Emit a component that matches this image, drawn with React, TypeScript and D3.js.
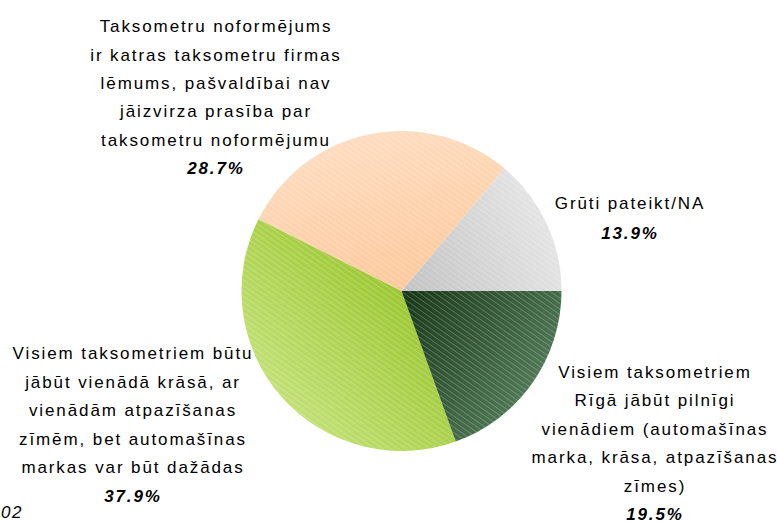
import React from "react";
import * as d3 from "d3";

const categories = [
  "Grūti pateikt/NA",
  "Taksometru noformējums ir katras taksometru firmas lēmums, pašvaldībai nav jāizvirza prasība par taksometru noformējumu",
  "Visiem taksometriem būtu jābūt vienādā krāsā, ar vienādām atpazīšanas zīmēm, bet automašīnas markas var būt dažādas",
  "Visiem taksometriem Rīgā jābūt pilnīgi vienādiem (automašīnas marka, krāsa, atpazīšanas zīmes)",
];
const values = [13.9, 28.7, 37.9, 19.5];
const labelLines = [
  ["Grūti pateikt/NA"],
  ["Taksometru noformējums", "ir katras taksometru firmas", "lēmums, pašvaldībai nav", "jāizvirza prasība par", "taksometru noformējumu"],
  ["Visiem taksometriem būtu", "jābūt vienādā krāsā, ar", "vienādām atpazīšanas", "zīmēm, bet automašīnas", "markas var būt dažādas"],
  ["Visiem taksometriem", "Rīgā jābūt pilnīgi", "vienādiem (automašīnas", "marka, krāsa, atpazīšanas", "zīmes)"],
];
const percentLabels = ["13.9%", "28.7%", "37.9%", "19.5%"];
const footnote = "02";

const innerColors = ["#c2c2c2", "#fcc99c", "#9cc832", "#163616"];
const outerColors = ["#e4e4e4", "#fedcbf", "#c2e075", "#4e7654"];
const labelPos = [
  { x: 630, y: 209, dy: 29.7 },
  { x: 216, y: 32.3, dy: 28.35 },
  { x: 133, y: 359, dy: 28.6 },
  { x: 655, y: 378, dy: 28.4 },
];

const W = 777;
const H = 523;
const cx = 401.5;
const cy = 291;
const R = 160;

export default function App() {
  const pie = d3
    .pie<number>()
    .sort(null)
    .startAngle(Math.PI / 2)
    .endAngle(Math.PI / 2 - 2 * Math.PI);
  const arcs = pie(values);
  const arc = d3.arc<d3.PieArcDatum<number>>().innerRadius(0).outerRadius(R);

  return (
    <svg
      width={W}
      height={H}
      style={{ position: "absolute", left: 0, top: 0, background: "#fff" }}
      fontFamily="'Liberation Sans', Arial, sans-serif"
    >
      <defs>
        <pattern
          id="stripes"
          width={4.5}
          height={4.5}
          patternUnits="userSpaceOnUse"
          patternTransform="rotate(35)"
        >
          <line x1={0} y1={0.5} x2={4.5} y2={0.5} stroke="#fff" strokeWidth={1} strokeOpacity={0.22} />
        </pattern>
        {arcs.map((a, i) => {
          const mid = (a.startAngle + a.endAngle) / 2;
          return (
            <linearGradient
              key={i}
              id={`g${i}`}
              gradientUnits="userSpaceOnUse"
              x1={0}
              y1={0}
              x2={Math.sin(mid) * R}
              y2={-Math.cos(mid) * R}
            >
              <stop offset="0" stopColor={innerColors[i]} />
              <stop offset="1" stopColor={outerColors[i]} />
            </linearGradient>
          );
        })}
      </defs>
      <g transform={`translate(${cx},${cy})`}>
        {arcs.map((a, i) => (
          <path key={`p${i}`} d={arc(a) || ""} fill={`url(#g${i})`} />
        ))}
        {arcs.map((a, i) => (
          <path key={`h${i}`} d={arc(a) || ""} fill="url(#stripes)" />
        ))}
      </g>
      {labelLines.map((lines, i) => (
        <text
          key={`l${i}`}
          x={labelPos[i].x}
          y={labelPos[i].y}
          textAnchor="middle"
          fontSize={17}
          letterSpacing={1.9}
          fill="#000"
        >
          {lines.map((ln, j) => (
            <tspan key={j} x={labelPos[i].x} y={labelPos[i].y + j * labelPos[i].dy}>
              {ln}
            </tspan>
          ))}
          <tspan
            x={labelPos[i].x}
            y={labelPos[i].y + lines.length * labelPos[i].dy}
            fontWeight="bold"
            fontStyle="italic"
          >
            {percentLabels[i]}
          </tspan>
        </text>
      ))}
      <text x={1} y={518} fontSize={17} fontStyle="italic" letterSpacing={1.5} fill="#000">
        {footnote}
      </text>
    </svg>
  );
}
